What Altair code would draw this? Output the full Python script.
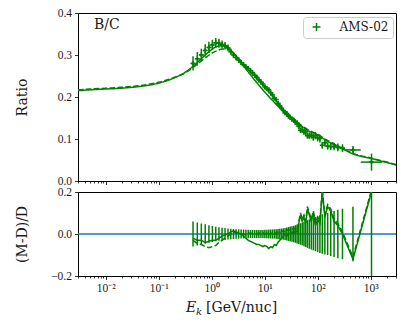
import altair as alt
import pandas as pd

# ---------------- data ----------------
e_lo = [0.404, 0.489, 0.585, 0.694, 0.819, 0.956, 1.110, 1.280, 1.467, 1.676,
        1.906, 2.158, 2.430, 2.729, 3.054, 3.405, 3.786, 4.198, 4.641, 5.135,
        5.629, 6.174, 6.769, 7.415, 8.111, 8.857, 9.654, 10.50, 11.45, 12.44,
        13.49, 14.64, 15.84, 17.14, 18.53, 20.03, 21.63, 23.33, 25.18, 27.13,
        29.23, 31.48, 33.93, 36.52, 39.32, 42.32, 45.57, 49.07, 53.07, 57.07,
        61.57, 66.57, 72.57, 79.07, 86.57, 95.07, 104.6, 115.6, 128.6, 144.6,
        164.1, 188.6, 219.6, 261.6, 329.1, 649.1]
e_hi = [0.489, 0.585, 0.694, 0.819, 0.956, 1.110, 1.280, 1.467, 1.676, 1.906,
        2.158, 2.430, 2.729, 3.054, 3.405, 3.786, 4.198, 4.641, 5.135, 5.629,
        6.174, 6.769, 7.415, 8.111, 8.857, 9.654, 10.50, 11.45, 12.44, 13.49,
        14.64, 15.84, 17.14, 18.53, 20.03, 21.63, 23.33, 25.18, 27.13, 29.23,
        31.48, 33.93, 36.52, 39.32, 42.32, 45.57, 49.07, 53.07, 57.07, 61.57,
        66.57, 72.57, 79.07, 86.57, 95.07, 104.6, 115.6, 128.6, 144.6, 164.1,
        188.6, 219.6, 261.6, 329.1, 649.1, 1649.0]
e_mid = [0.444, 0.535, 0.637, 0.754, 0.885, 1.030, 1.192, 1.370, 1.568, 1.787,
         2.028, 2.290, 2.575, 2.887, 3.225, 3.590, 3.987, 4.414, 4.882, 5.376,
         5.895, 6.465, 7.085, 7.755, 8.476, 9.247, 10.07, 10.96, 11.93, 12.95,
         14.05, 15.23, 16.48, 17.82, 19.27, 20.81, 22.46, 24.24, 26.14, 28.16,
         30.33, 32.68, 35.20, 37.89, 40.79, 43.91, 47.29, 51.03, 55.03, 59.28,
         64.02, 69.51, 75.75, 82.74, 90.72, 99.72, 110.0, 121.9, 136.4, 154.0,
         175.9, 203.5, 239.7, 293.4, 462.2, 1034.6]
bc_data = [0.280, 0.291, 0.300, 0.311, 0.318, 0.324, 0.329, 0.328, 0.325, 0.322,
           0.317, 0.308, 0.300, 0.294, 0.288, 0.282, 0.277, 0.272, 0.268, 0.263,
           0.258, 0.252, 0.247, 0.241, 0.236, 0.231, 0.224, 0.220, 0.217, 0.210,
           0.205, 0.197, 0.194, 0.185, 0.179, 0.173, 0.168, 0.162, 0.161, 0.154,
           0.152, 0.147, 0.145, 0.140, 0.138, 0.130, 0.121, 0.122, 0.117, 0.117,
           0.108, 0.108, 0.109, 0.104, 0.108, 0.103, 0.101, 0.085, 0.091, 0.083,
           0.082, 0.082, 0.080, 0.078, 0.074, 0.045]
rel_err = [0.060, 0.055, 0.050, 0.046, 0.042, 0.038, 0.035, 0.032, 0.030, 0.028,
           0.026, 0.025, 0.024, 0.023, 0.022, 0.021, 0.021, 0.020, 0.020, 0.019,
           0.019, 0.019, 0.019, 0.019, 0.019, 0.019, 0.020, 0.020, 0.021, 0.021,
           0.022, 0.022, 0.023, 0.024, 0.025, 0.026, 0.027, 0.029, 0.031, 0.033,
           0.035, 0.037, 0.039, 0.042, 0.045, 0.048, 0.051, 0.054, 0.058, 0.062,
           0.066, 0.070, 0.074, 0.078, 0.082, 0.086, 0.090, 0.094, 0.098, 0.100,
           0.105, 0.110, 0.115, 0.120, 0.130, 0.450]
res_solid = [-0.020, -0.030, -0.030, -0.040, -0.035, -0.030, -0.030, -0.020, -0.010, -0.005,
             0.000, 0.010, 0.015, 0.010, 0.005, 0.000, -0.010, -0.020, -0.030, -0.035,
             -0.040, -0.045, -0.050, -0.050, -0.055, -0.060, -0.055, -0.060, -0.070, -0.060,
             -0.065, -0.050, -0.055, -0.040, -0.030, -0.020, -0.010, 0.000, -0.010, 0.005,
             0.000, 0.010, 0.000, 0.015, 0.010, 0.050, 0.090, 0.060, 0.080, 0.050,
             0.120, 0.090, 0.060, 0.100, 0.040, 0.070, 0.050, 0.200, 0.080, 0.130,
             0.110, 0.060, 0.040, 0.000, -0.120, 0.200]
res_dashed = [-0.030, -0.045, -0.050, -0.060, -0.065, -0.060, -0.055, -0.040, -0.030, -0.020,
              -0.010, 0.000, 0.010, 0.005, 0.005, 0.000, 0.000, -0.005, 0.000, 0.005,
              0.000, 0.005, 0.000, 0.005, 0.000, 0.005, 0.000, 0.005, -0.005, 0.005,
              0.000, 0.010, 0.000, 0.010, 0.005, 0.010, 0.015, 0.010, 0.020, 0.015,
              0.020, 0.030, 0.020, 0.030, 0.020, 0.060, 0.100, 0.070, 0.090, 0.060,
              0.130, 0.100, 0.070, 0.110, 0.050, 0.080, 0.060, 0.210, 0.090, 0.140,
              0.120, 0.070, 0.050, 0.010, -0.110, 0.210]

model_e = [0.003, 0.005, 0.01, 0.02, 0.05, 0.1, 0.2, 0.3, 0.5, 0.7,
           1.0, 1.3, 1.6, 2.0, 2.5, 3.0, 4.0, 5.0, 7.0, 10,
           15, 20, 30, 50, 70, 100, 150, 200, 300, 500,
           700, 1000, 1500, 2000, 3000]
model_solid = [0.215, 0.217, 0.219, 0.221, 0.226, 0.233, 0.246, 0.257, 0.279, 0.296,
               0.313, 0.321, 0.322, 0.318, 0.306, 0.294, 0.274, 0.258, 0.235, 0.212,
               0.188, 0.172, 0.152, 0.130, 0.118, 0.110, 0.095, 0.087, 0.076, 0.063,
               0.058, 0.054, 0.048, 0.044, 0.038]
model_dashed = [0.217, 0.219, 0.221, 0.223, 0.228, 0.235, 0.247, 0.256, 0.275, 0.290,
                0.304, 0.311, 0.314, 0.314, 0.305, 0.295, 0.277, 0.264, 0.244, 0.223,
                0.198, 0.177, 0.155, 0.132, 0.120, 0.111, 0.097, 0.089, 0.077, 0.064,
                0.059, 0.055, 0.049, 0.045, 0.039]

x_major = [0.01, 0.1, 1, 10, 100, 1000]
x_minor = [0.003, 0.004, 0.005, 0.006, 0.007, 0.008, 0.009,
           0.02, 0.03, 0.04, 0.05, 0.06, 0.07, 0.08, 0.09,
           0.2, 0.3, 0.4, 0.5, 0.6, 0.7, 0.8, 0.9,
           2, 3, 4, 5, 6, 7, 8, 9,
           20, 30, 40, 50, 60, 70, 80, 90,
           200, 300, 400, 500, 600, 700, 800, 900,
           2000, 3000]
x_labels = ["10⁻²", "10⁻¹", "10⁰", "10¹", "10²", "10³"]

# ---------------- styling ----------------
GREEN = "#008000"
TICKFONT = "Liberation Serif"
TEXTFONT = "DejaVu Serif"
INK = "#1a1a1a"

# ---------------- tables ----------------
models = pd.concat([
    pd.DataFrame({"E": model_e, "BC": model_solid, "model": "solid"}),
    pd.DataFrame({"E": model_e, "BC": model_dashed, "model": "dashed"}),
])
dat = pd.DataFrame({"E": e_mid, "lo": e_lo, "hi": e_hi, "BC": bc_data, "err": rel_err})
dat["BC_lo"] = dat["BC"] * (1 - dat["err"])
dat["BC_hi"] = dat["BC"] * (1 + dat["err"])
dat["r_lo"] = -dat["err"]
dat["r_hi"] = dat["err"]
dat["label"] = "AMS-02"
res = pd.concat([
    pd.DataFrame({"E": e_mid, "r": res_solid, "model": "solid"}),
    pd.DataFrame({"E": e_mid, "r": res_dashed, "model": "dashed"}),
])

# ---------------- scales / axes ----------------
x_ticks = sorted(x_major + x_minor)
label_expr = " : ".join(
    [f"datum.value == {v} ? '{l}'" for v, l in zip(x_major, x_labels)]) + " : ''"
major_test = "indexof([" + ",".join(str(v) for v in x_major) + "], datum.value) >= 0"
tick_size = {"condition": {"test": major_test, "value": 3.5}, "value": 2}

xscale = alt.Scale(type="log", domain=[0.003, 3000], nice=False)
dash_scale = alt.Scale(domain=["solid", "dashed"], range=[[1, 0], [5.5, 2.4]])

x_top = alt.X("E:Q", scale=xscale, axis=alt.Axis(values=x_ticks, labels=False, title=None,
                                                 tickSize=tick_size, grid=False))
x_bot = alt.X("E:Q", scale=xscale, axis=alt.Axis(values=x_ticks, labelExpr=label_expr,
                                                 tickSize=tick_size, grid=False,
                                                 labelOverlap=False, labelFlush=False,
                                                 labelPadding=3, title=None))

yscale_top = alt.Scale(domain=[0, 0.4], nice=False)
yscale_bot = alt.Scale(domain=[-0.2, 0.2], nice=False)

y_axis_top = alt.Axis(values=[0, 0.1, 0.2, 0.3, 0.4], format=".1f", grid=False,
                      title="Ratio", titleX=-49, tickSize=3.5, labelPadding=3)
y_axis_bot = alt.Axis(values=[-0.2, 0.0, 0.2], grid=False,
                      labelExpr="replace(format(datum.value, '.1f'), '-', '−')",
                      title="(M-D)/D", titleX=-49, tickSize=3.5, labelPadding=3)

W = 318

# ---------------- top panel ----------------
lines = alt.Chart(models).mark_line(color=GREEN, strokeWidth=1.5, clip=True,
                                    interpolate="monotone").encode(
    x=x_top,
    y=alt.Y("BC:Q", scale=yscale_top, axis=y_axis_top),
    strokeDash=alt.StrokeDash("model:N", scale=dash_scale, legend=None),
    detail="model:N",
)
yerr = alt.Chart(dat).mark_rule(color=GREEN, strokeWidth=1.5, clip=True).encode(
    x="E:Q", y="BC_lo:Q", y2="BC_hi:Q")
xerr = alt.Chart(dat).mark_rule(color=GREEN, strokeWidth=1.5, clip=True).encode(
    x="lo:Q", x2="hi:Q", y="BC:Q")
pts = alt.Chart(dat).mark_point(shape="M-1,0H1M0,-1V1", size=25, strokeWidth=1.5,
                                filled=False, opacity=1, clip=True).encode(
    x="E:Q", y="BC:Q",
    color=alt.Color("label:N", scale=alt.Scale(domain=["AMS-02"], range=[GREEN]),
                    legend=alt.Legend(title=None, orient="none", legendX=225, legendY=4,
                                      symbolType="M-1,0H1M0,-1V1", symbolSize=64,
                                      symbolStrokeWidth=1.5, symbolStrokeColor=GREEN,
                                      symbolOffset=3.5,
                                      fillColor="white", strokeColor="#cccccc",
                                      cornerRadius=3, padding=4, labelOffset=17,
                                      labelFont=TEXTFONT, labelFontSize=12,
                                      labelColor=INK)),
)
bc_text = alt.Chart(pd.DataFrame({"t": ["B/C"]})).mark_text(
    align="left", baseline="alphabetic", font=TEXTFONT, fontSize=14, color=INK).encode(
    text="t:N", x=alt.value(16), y=alt.value(16))

top = alt.layer(lines, yerr, xerr, pts, bc_text).properties(width=W, height=168)

# ---------------- bottom panel ----------------
zero = alt.Chart(pd.DataFrame({"z": [0.0]})).mark_rule(color="#1f77b4", strokeWidth=1.3).encode(
    y=alt.Y("z:Q", scale=yscale_bot, axis=y_axis_bot))
rlines = alt.Chart(res).mark_line(color=GREEN, strokeWidth=1.5, clip=True).encode(
    x=x_bot,
    y=alt.Y("r:Q", scale=yscale_bot),
    strokeDash=alt.StrokeDash("model:N", scale=dash_scale, legend=None),
    detail="model:N",
)
rerr = alt.Chart(dat).mark_rule(color=GREEN, strokeWidth=1.5, clip=True).encode(
    x="E:Q", y="r_lo:Q", y2="r_hi:Q")

# x-axis title: italic E with subscript k, then the unit
t_E = alt.Chart(pd.DataFrame({"t": ["E"]})).mark_text(
    align="left", baseline="alphabetic", font=TEXTFONT, fontSize=14, fontStyle="italic",
    color=INK).encode(text="t:N", x=alt.value(108), y=alt.value(120))
t_k = alt.Chart(pd.DataFrame({"t": ["k"]})).mark_text(
    align="left", baseline="alphabetic", font=TEXTFONT, fontSize=10, fontStyle="italic",
    color=INK).encode(text="t:N", x=alt.value(118), y=alt.value(123))
t_unit = alt.Chart(pd.DataFrame({"t": ["[GeV/nuc]"]})).mark_text(
    align="left", baseline="alphabetic", font=TEXTFONT, fontSize=14,
    color=INK).encode(text="t:N", x=alt.value(128), y=alt.value(120))

bottom = alt.layer(zero, rerr, rlines, t_E, t_k, t_unit).properties(width=W, height=84)

chart = alt.vconcat(top, bottom, spacing=11, bounds="flush").properties(
    padding={"left": 6, "top": -2, "right": 0, "bottom": 0}
).configure_view(
    stroke="black", strokeWidth=1
).configure_axis(
    domainColor="black", tickColor="black", labelColor=INK, titleColor=INK,
    labelFont=TICKFONT, titleFont=TEXTFONT, labelFontSize=11.5, titleFontSize=14,
    titleFontWeight="normal", tickWidth=0.8, domainWidth=1
)

chart.save("out.html", embed_options={"renderer": "svg", "actions": False})
